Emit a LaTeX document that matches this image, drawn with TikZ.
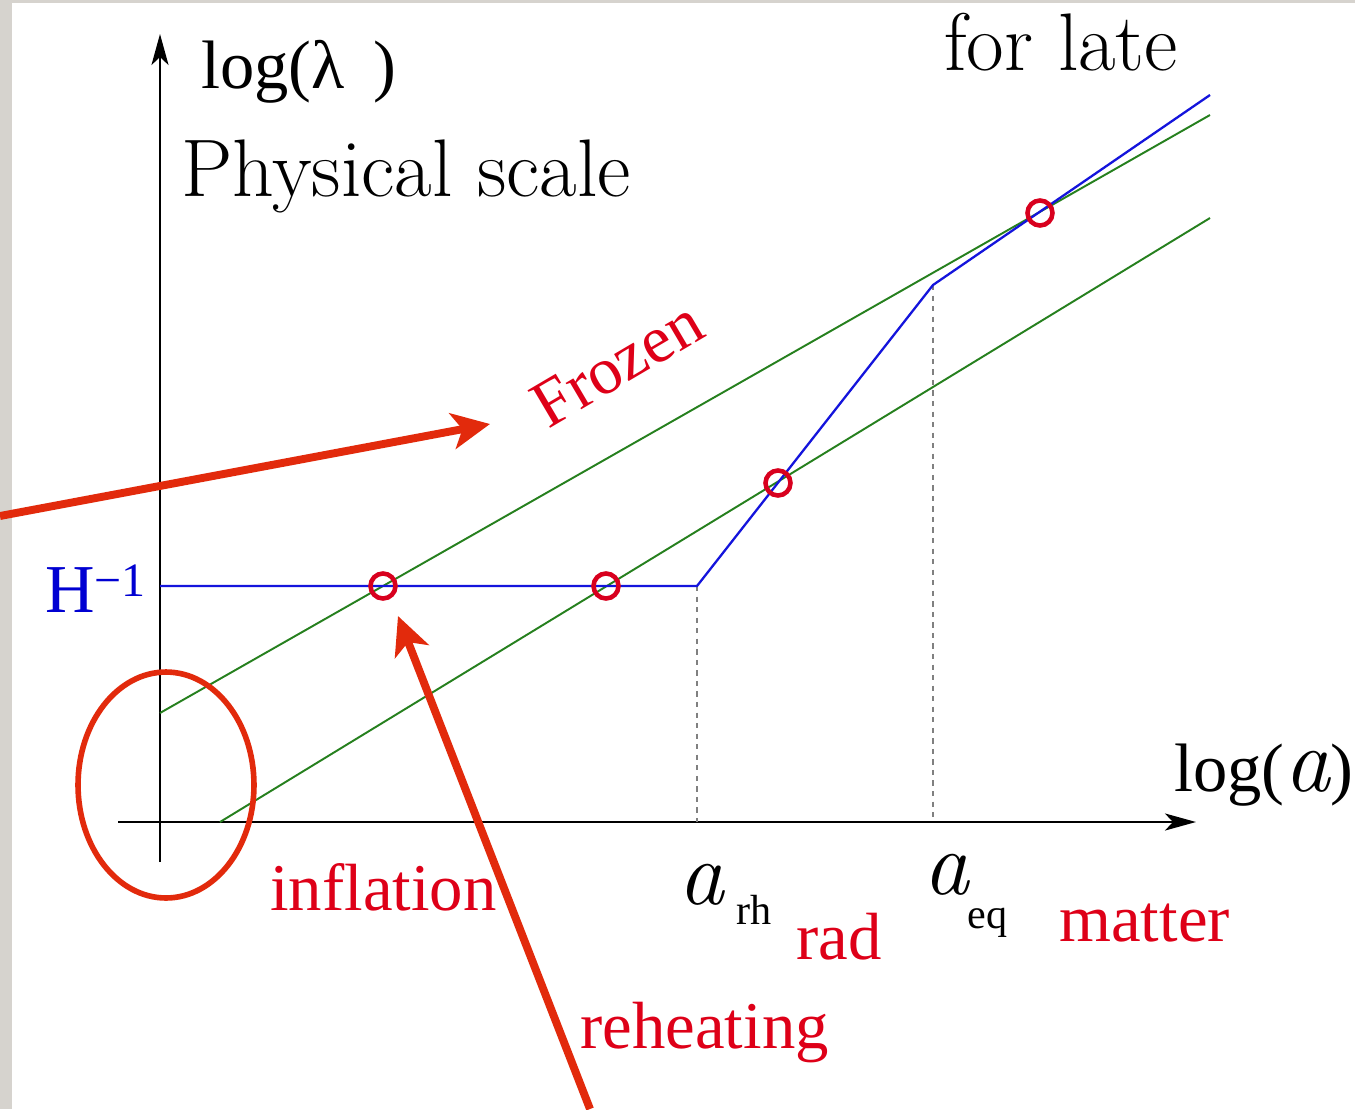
\documentclass[tikz,border=0pt]{standalone}
\usepackage{fontspec}
\usepackage{xcolor}
\usepackage{tikz}
\usetikzlibrary{arrows.meta,shapes.geometric}
\newfontfamily\tmsfont{Liberation Serif}
\newcommand{\scalea}{{\rmfamily\itshape\fontsize{52}{54}\selectfont a}}
\definecolor{bggray}{RGB}{214,211,206}
\definecolor{labelred}{RGB}{222,0,24}
\definecolor{arrowred}{RGB}{226,42,12}
\definecolor{ringred}{RGB}{216,0,30}
\definecolor{linegreen}{RGB}{38,128,30}
\definecolor{lineblue}{RGB}{20,20,220}
\definecolor{textblue}{RGB}{0,0,210}

\begin{document}
\begin{tikzpicture}[x=0.02cm, y=-0.02cm,
redlbl/.style={text=labelred, font=\tmsfont\fontsize{38}{40}\selectfont, inner sep=0pt, anchor=base west},
blklbl/.style={font=\tmsfont\fontsize{39}{41}\selectfont, inner sep=0pt, anchor=base west},
sublbl/.style={font=\tmsfont\fontsize{24}{26}\selectfont, inner sep=0pt, anchor=base west},
biglbl/.style={font=\fontsize{46.5}{50}\selectfont, inner sep=0pt, anchor=base west},
axis/.style={line width=1.6pt, black},
scaleline/.style={line width=1.1pt, linegreen},
hubble/.style={line width=1.3pt, lineblue},
guide/.style={line width=0.7pt, gray, dashed},
hit/.style={circle, draw=ringred, line width=2.6pt, minimum size=0.5cm, inner sep=0pt},
ring/.style={ellipse, draw=arrowred, line width=3.2pt, minimum width=3.52cm, minimum height=4.52cm, inner sep=0pt},
pointer/.style={-{Stealth[length=0.76cm, width=0.72cm, inset=0.2cm]}, line width=4.5pt, arrowred}
]
\fill[bggray] (0,0) rectangle (1355,1109);
\fill[white] (12,3) rectangle (1355,1109);
\useasboundingbox (0,0) rectangle (1355,1109);

\coordinate (xl) at (118,822);
\coordinate (xr) at (1196,822);
\coordinate (yb) at (160,862);
\coordinate (yt) at (160,34);
\draw[axis, -{Stealth[length=0.62cm, width=0.34cm, inset=0.16cm]}] (xl) -- (xr);
\draw[axis, -{Stealth[length=0.62cm, width=0.34cm, inset=0.16cm]}] (yb) -- (yt);

\coordinate (hstart) at (160,586);
\coordinate (rh) at (697,586);
\coordinate (eq) at (933,285);
\coordinate (hend) at (1210,95);
\coordinate (g1s) at (160,713);
\coordinate (g1e) at (1210,115);
\coordinate (g2s) at (220,822);
\coordinate (g2e) at (1210,218);

\draw[guide] (rh) -- (rh |- xl);
\draw[guide] (eq) -- (eq |- xl);
\draw[scaleline] (g1s) -- (g1e);
\draw[scaleline] (g2s) -- (g2e);
\draw[hubble] (hstart) -- (rh) -- (eq) -- (hend);

\node[hit] (c1) at (383,586) {};
\node[hit] (c2) at (606,586) {};
\node[hit] (c3) at (778,483) {};
\node[hit] (c4) at (1040,213) {};
\node[ring] (origin) at (166,785) {};

\node[blklbl] (ylab) at (201,88) {log(λ\, )};
\node[biglbl] (phys) at (181,196) {Physical scale};
\node[biglbl] (late) at (944,70) {for late};
\node[blklbl, text=textblue] (hinv) at (45,612) {H\textsuperscript{−1}};
\node[blklbl] (xlab) at (1174,791) {log(\scalea)};
\node[inner sep=0pt, anchor=base west] (arh) at (678,904) {\scalea};
\node[sublbl] (arhsub) at (736,924) {rh};
\node[inner sep=0pt, anchor=base west] (aeq) at (923,894) {\scalea};
\node[sublbl] (aeqsub) at (967,928) {eq};
\node[redlbl] (infl) at (270,910) {inflation};
\node[redlbl] (rad) at (796,959) {rad};
\node[redlbl] (matter) at (1059,941) {matter};
\node[redlbl] (reheat) at (580,1048) {reheating};
\node[redlbl, anchor=center, rotate=30.5] (frozen) at (617,364) {Frozen};

\coordinate (p1) at (0,516);
\coordinate (p1tip) at (490,424);
\coordinate (p2) at (590,1109);
\coordinate (p2tip) at (398,616);
\draw[pointer] (p1) -- (p1tip);
\draw[pointer] (p2) -- (p2tip);
\end{tikzpicture}
\end{document}
